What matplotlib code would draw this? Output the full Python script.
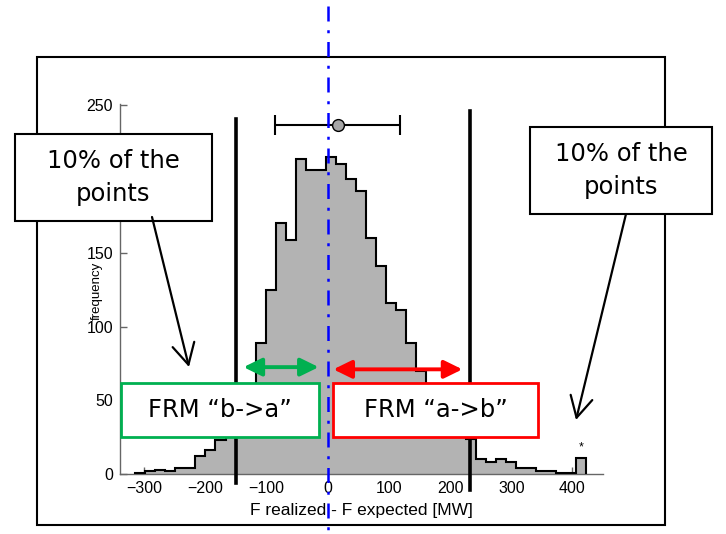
import numpy as np
import matplotlib
matplotlib.use("Agg")
import matplotlib.pyplot as plt
import matplotlib.transforms as mtransforms
from matplotlib.patches import Rectangle, FancyArrowPatch
from matplotlib.lines import Line2D

# ---------------- data ----------------
bin_edges = np.linspace(-315, 423, 46)
counts = [1, 2, 3, 2, 4, 4, 12, 16, 23, 32, 45, 55, 89, 125, 170, 159, 214, 206,
          206, 215, 210, 200, 192, 160, 141, 116, 111, 89, 70, 55, 45, 35, 28, 24,
          10, 8, 10, 8, 4, 4, 2, 2, 1, 1, 11]
x_ticks = [-300, -200, -100, 0, 100, 200, 300, 400]
y_ticks = [0, 50, 100, 150, 200, 250]
q_low, q_high = -150, 232          # 10% quantile lines
mean_val, err_lo, err_hi = 16, 103, 102
err_y = 237
box_text_left = "10% of the\npoints"
box_text_right = "10% of the\npoints"
frm_ba = "FRM \u201cb->a\u201d"
frm_ab = "FRM \u201ca->b\u201d"

W, H = 726, 534
fig = plt.figure(figsize=(W / 100, H / 100), dpi=100)
fig.patch.set_facecolor("white")


def fx(px):
    return px / W


def fy(py):
    return (H - py) / H


ax = fig.add_axes([fx(120), fy(474), fx(603) - fx(120), fy(104) - fy(474)])
ax.set_xlim(-340, 450)
ax.set_ylim(0, 251)

gray = "#b3b3b3"
ax.stairs(counts, bin_edges, fill=True, facecolor=gray, edgecolor="none", zorder=2)
ax.stairs(counts, bin_edges, fill=False, color="black", lw=1.5, zorder=3)

for s in ["top", "right"]:
    ax.spines[s].set_visible(False)
for s in ["left", "bottom"]:
    ax.spines[s].set_color("#666666")
    ax.spines[s].set_linewidth(1.0)

ax.set_xticks(x_ticks)
ax.set_yticks(y_ticks)
ax.tick_params(direction="in", length=5, width=1, color="#666666",
               labelsize=11.5, pad=5)
for lab in ax.get_xticklabels() + ax.get_yticklabels():
    lab.set_fontfamily("Liberation Sans")

ax.set_xlabel("F realized - F expected [MW]", fontsize=12.5, family="Liberation Sans")
ax.xaxis.set_label_coords(0.5, -0.078)
ax.set_ylabel("frequency", fontsize=9.5, family="Liberation Sans")
ax.yaxis.set_label_coords(-0.035, 0.495)

# error bar
ax.errorbar([mean_val], [err_y], xerr=[[err_lo], [err_hi]], fmt="o",
            color="black", mfc="#a6a6a6", mec="black", ms=8.5, capsize=7,
            capthick=1.5, elinewidth=1.5, zorder=5, clip_on=False)

# quantile lines and zero line (spanning in figure coords)
blend = mtransforms.blended_transform_factory(ax.transData, fig.transFigure)
fig.add_artist(Line2D([q_low, q_low], [fy(119), fy(483)], transform=blend,
                      color="black", lw=2.6, zorder=4))
fig.add_artist(Line2D([q_high, q_high], [fy(111), fy(490)], transform=blend,
                      color="black", lw=2.6, zorder=4))
fig.add_artist(Line2D([0, 0], [fy(6), fy(534)], transform=blend,
                      color="#0000ff", lw=1.8, ls=(0, (6, 3.5, 1.2, 3.5)), zorder=6))

# outer frame
fig.add_artist(Rectangle((fx(37), fy(525)), fx(665) - fx(37), fy(57) - fy(525),
                         transform=fig.transFigure, fill=False,
                         edgecolor="black", lw=1.5, zorder=1))

# coloured double arrows
green = "#00b050"
red = "#ff0000"
arrow_style = "<|-|>,head_length=0.55,head_width=0.27"
ax.annotate("", xy=(-138, 72.5), xytext=(-15, 72.5),
            arrowprops=dict(arrowstyle=arrow_style,
                            color=green, lw=2.8, mutation_scale=20,
                            shrinkA=0, shrinkB=0), annotation_clip=False, zorder=7)
ax.annotate("", xy=(9, 71), xytext=(220, 71),
            arrowprops=dict(arrowstyle=arrow_style,
                            color=red, lw=2.8, mutation_scale=20,
                            shrinkA=0, shrinkB=0), annotation_clip=False, zorder=7)

# star above outlier bin
ax.text(415, 14, "*", ha="center", va="bottom", fontsize=9, family="Liberation Sans")


def box(x0, y0, x1, y1, text, ec, lw, fs):
    fig.add_artist(Rectangle((fx(x0), fy(y1)), fx(x1) - fx(x0), fy(y0) - fy(y1),
                             transform=fig.transFigure, facecolor="white",
                             edgecolor=ec, lw=lw, zorder=10))
    t = fig.text(fx((x0 + x1) / 2), fy((y0 + y1) / 2), text, ha="center",
                 va="center", fontsize=fs, family="DejaVu Sans",
                 linespacing=1.45, zorder=11)
    return t


box(15, 134, 212, 221, box_text_left, "black", 1.5, 17.5)
box(530, 127, 712, 214, box_text_right, "black", 1.5, 17.5)
box(121, 383, 319, 437, frm_ba, green, 2.0, 17.5)
box(333, 383, 538, 437, frm_ab, red, 2.0, 17.5)

# black pointer arrows
for (xa, ya), (xb, yb) in [((152, 217), (189, 367)), ((626, 214), (576, 420))]:
    fig.add_artist(FancyArrowPatch((fx(xa), fy(ya)), (fx(xb), fy(yb)),
                                   transform=fig.transFigure,
                                   arrowstyle="->,head_length=0.75,head_width=0.4",
                                   mutation_scale=20, lw=1.6, color="black",
                                   shrinkA=0, shrinkB=0, zorder=12))

fig.savefig("out.png", dpi=100)
